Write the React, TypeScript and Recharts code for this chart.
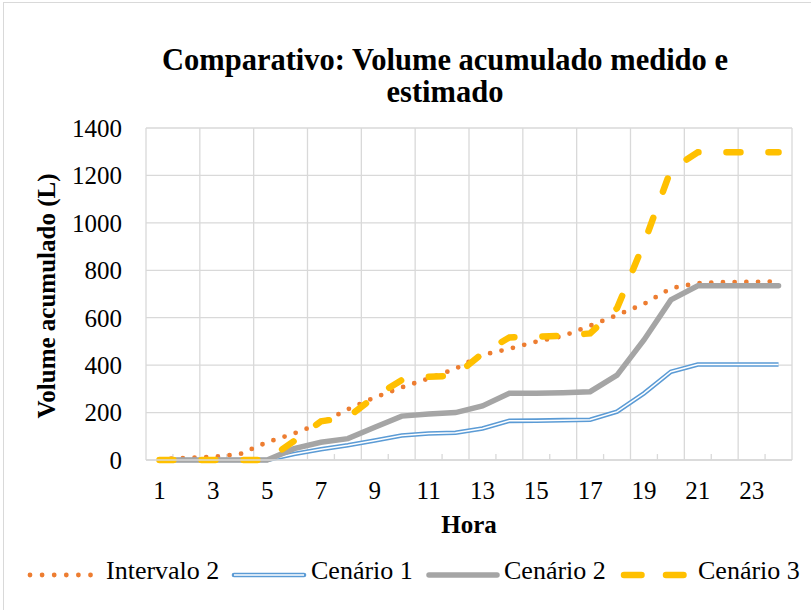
import React from "react";
import { LineChart, Line, XAxis, YAxis, CartesianGrid, ReferenceLine } from "recharts";

const hours = [1, 2, 3, 4, 5, 6, 7, 8, 9, 10, 11, 12, 13, 14, 15, 16, 17, 18, 19, 20, 21, 22, 23, 24];
const intervalo2 = [3, 8, 13, 25, 75, 112, 155, 214, 264, 306, 344, 385, 443, 469, 499, 523, 566, 611, 658, 724, 746, 750, 751, 753];
const cenario1 = [0, 0, 0, 0, 0, 25, 45, 62, 82, 103, 112, 115, 133, 165, 166, 168, 170, 204, 281, 372, 403, 403, 403, 403];
const cenario2 = [0, 0, 0, 0, 0, 48, 75, 90, 138, 185, 194, 200, 228, 281, 281, 284, 288, 358, 506, 675, 735, 735, 735, 735];
const cenario3 = [0, 0, 0, 0, 0, 80, 163, 180, 267, 337, 351, 356, 450, 517, 520, 524, 534, 640, 914, 1223, 1298, 1298, 1298, 1298];

const xTicks = [1, 3, 5, 7, 9, 11, 13, 15, 17, 19, 21, 23];
const yTicks = [0, 200, 400, 600, 800, 1000, 1200, 1400];
const gridX = [0.5, 2.5, 4.5, 6.5, 8.5, 10.5, 12.5, 14.5, 16.5, 18.5, 20.5, 22.5, 24.5];
const minorX = [1.5, 3.5, 5.5, 7.5, 9.5, 11.5, 13.5, 15.5, 17.5, 19.5, 21.5, 23.5];

const data = hours.map((h, i) => ({
  hora: h,
  intervalo2: intervalo2[i],
  cenario1: cenario1[i],
  cenario2: cenario2[i],
  cenario3: cenario3[i],
}));

const FONT = '"Times New Roman", "Liberation Serif", serif';
const GRID = "#d9d9d9";

// legend: symbol drawn in its own small svg, label placed after it
function LegendItem({ symLeft, textLeft, symbol, label }: { symLeft: number; textLeft: number; symbol: React.ReactNode; label: string }) {
  return (
    <>
      <div style={{ position: "absolute", left: symLeft, top: 566, height: 10 }}>{symbol}</div>
      <div
        style={{
          position: "absolute",
          left: textLeft,
          top: 571,
          transform: "translateY(-50%)",
          fontSize: 26,
          whiteSpace: "nowrap",
        }}
      >
        {label}
      </div>
    </>
  );
}

export default function App() {
  return (
    <div
      style={{
        position: "absolute",
        left: 0,
        top: 0,
        width: 811,
        height: 610,
        background: "#fff",
        fontFamily: FONT,
        color: "#000",
        overflow: "hidden",
      }}
    >
      <div
        style={{
          position: "absolute",
          left: 3,
          top: 2,
          width: 820,
          height: 640,
          border: "1px solid #d9d9d9",
        }}
      />
      <div style={{ position: "absolute", left: 0, top: 0 }}>
        <LineChart width={811} height={610} data={data} margin={{ top: 128, right: 19, bottom: 0, left: 0 }}>
          <CartesianGrid stroke={GRID} strokeWidth={1.3} vertical={false} />
          {gridX.map((x) => (
            <ReferenceLine key={"g" + x} x={x} stroke={GRID} strokeWidth={1.3} />
          ))}
          {minorX.map((x) => (
            <ReferenceLine
              key={"m" + x}
              segment={[
                { x, y: 0 },
                { x, y: 25 },
              ]}
              stroke={GRID}
              strokeWidth={1.3}
              ifOverflow="visible"
            />
          ))}
          <XAxis
            dataKey="hora"
            type="number"
            domain={[0.5, 24.5]}
            ticks={xTicks}
            axisLine={{ stroke: GRID, strokeWidth: 1.3 }}
            tickLine={false}
            tickSize={0}
            tickMargin={21}
            tick={{ fontSize: 25, fill: "#000", fontFamily: FONT }}
            interval={0}
            height={150}
          />
          <YAxis
            domain={[0, 1400]}
            ticks={yTicks}
            width={146}
            axisLine={false}
            tickLine={false}
            tickSize={0}
            tickMargin={24}
            tick={{ fontSize: 25, fill: "#000", fontFamily: FONT }}
            interval={0}
          />
          <Line
            dataKey="intervalo2"
            stroke="#ED7D31"
            strokeWidth={4.8}
            strokeDasharray="0 11.7"
            strokeLinecap="round"
            dot={false}
            isAnimationActive={false}
          />
          <Line dataKey="cenario1" stroke="#5B9BD5" strokeWidth={4.6} dot={false} isAnimationActive={false} />
          <Line dataKey="cenario1" stroke="#ffffff" strokeWidth={1.5} dot={false} isAnimationActive={false} />
          <Line
            dataKey="cenario2"
            stroke="#A5A5A5"
            strokeWidth={5.5}
            strokeLinecap="round"
            dot={false}
            isAnimationActive={false}
          />
          <Line
            dataKey="cenario3"
            stroke="#FFC000"
            strokeWidth={6.5}
            strokeDasharray="14 28"
            strokeLinecap="round"
            dot={false}
            isAnimationActive={false}
          />
        </LineChart>
      </div>

      <div
        style={{
          position: "absolute",
          left: 0,
          top: 44,
          width: 890,
          textAlign: "center",
          fontSize: 30.5,
          fontWeight: "bold",
          lineHeight: "32px",
        }}
      >
        Comparativo: Volume acumulado medido e
        <br />
        estimado
      </div>

      <div
        style={{
          position: "absolute",
          left: 47,
          top: 296,
          transform: "translate(-50%, -50%) rotate(-90deg)",
          whiteSpace: "nowrap",
          fontSize: 25,
          fontWeight: "bold",
        }}
      >
        Volume acumulado (L)
      </div>

      <div
        style={{
          position: "absolute",
          left: 469,
          top: 525,
          transform: "translate(-50%, -50%)",
          fontSize: 25,
          fontWeight: "bold",
        }}
      >
        Hora
      </div>

      <LegendItem
        symLeft={24}
        textLeft={106}
        label="Intervalo 2"
        symbol={
          <svg width={74} height={10}>
            <line x1={6} y1={5} x2={68} y2={5} stroke="#ED7D31" strokeWidth={4.8} strokeDasharray="0 12.1" strokeLinecap="round" />
          </svg>
        }
      />
      <LegendItem
        symLeft={230}
        textLeft={311}
        label="Cenário 1"
        symbol={
          <svg width={78} height={10}>
            <line x1={4} y1={5} x2={74} y2={5} stroke="#5B9BD5" strokeWidth={4.6} strokeLinecap="round" />
            <line x1={4} y1={5} x2={74} y2={5} stroke="#fff" strokeWidth={1.5} />
          </svg>
        }
      />
      <LegendItem
        symLeft={425}
        textLeft={504}
        label="Cenário 2"
        symbol={
          <svg width={76} height={10}>
            <line x1={4} y1={5} x2={72} y2={5} stroke="#A5A5A5" strokeWidth={5.5} strokeLinecap="round" />
          </svg>
        }
      />
      <LegendItem
        symLeft={617}
        textLeft={698}
        label="Cenário 3"
        symbol={
          <svg width={74} height={10}>
            <line x1={7} y1={5} x2={70} y2={5} stroke="#FFC000" strokeWidth={6.5} strokeDasharray="17.5 24.5" strokeLinecap="round" />
          </svg>
        }
      />
    </div>
  );
}
